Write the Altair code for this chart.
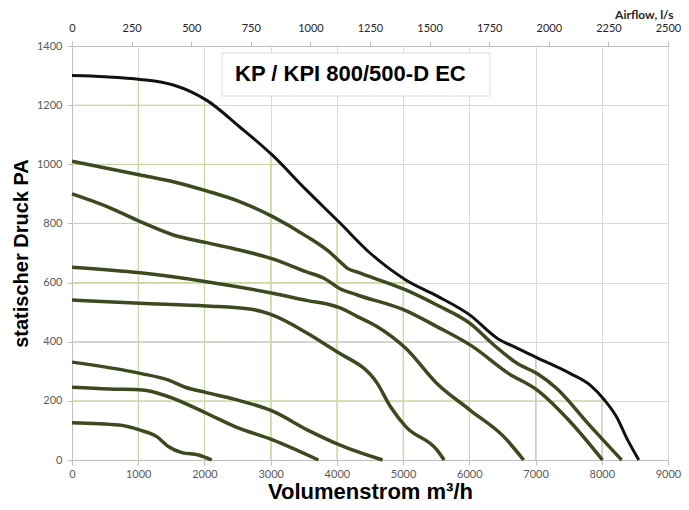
import altair as alt
import pandas as pd
import numpy as np

# ---- axis ticks ----
x_ticks = list(range(0, 9001, 1000))      # Volumenstrom m³/h
y_ticks = list(range(0, 1401, 200))       # statischer Druck PA
top_ticks = list(range(0, 2501, 250))     # Airflow l/s

# ---- curves ----
c1300_x = [0, 500, 1030, 1530, 1800, 2030, 2530, 3030, 3530, 4040, 4500, 5040, 5510, 6010, 6420, 6720, 7040, 7520, 7820, 8040, 8220, 8390, 8560]
c1300_y = [1300, 1296, 1287, 1268, 1245, 1217, 1127, 1030, 915, 803, 700, 609, 555, 490, 412, 378, 344, 293, 254, 203, 147, 68, 0]

c1010_x = [0, 1030, 1530, 2030, 2530, 3030, 3530, 3910, 4040, 4160, 4310, 5040, 5510, 6010, 6370, 6720, 7040, 7320, 7790, 8300]
c1010_y = [1010, 964, 941, 910, 874, 823, 758, 699, 672, 648, 635, 575, 524, 462, 389, 327, 290, 242, 124, 0]

c900_x = [0, 530, 1030, 1530, 2030, 2530, 3030, 3530, 3810, 4040, 4310, 5040, 5510, 6040, 6590, 7020, 7520, 8010]
c900_y = [900, 857, 806, 761, 735, 710, 680, 637, 614, 580, 558, 505, 451, 385, 293, 237, 130, 0]

c650_x = [0, 1030, 2030, 3030, 3560, 3910, 4040, 4310, 4610, 5040, 5510, 6010, 6520, 6820]
c650_y = [652, 633, 603, 564, 539, 524, 515, 485, 451, 378, 259, 169, 79, 0]

c540_x = [0, 1030, 2030, 2710, 3030, 3560, 3960, 4040, 4610, 4810, 5040, 5510, 5620]
c540_y = [541, 530, 521, 510, 490, 428, 372, 361, 259, 180, 113, 34, 0]

c330_x = [0, 1030, 1460, 1710, 2030, 2460, 3030, 3560, 4040, 4690]
c330_y = [331, 293, 270, 246, 228, 205, 165, 101, 51, 0]

c245_x = [0, 560, 1060, 1460, 2030, 2460, 3030, 3720]
c245_y = [246, 240, 237, 214, 158, 113, 68, 0]

c120_x = [0, 710, 1030, 1280, 1460, 1660, 1910, 2110]
c120_y = [126, 118, 101, 79, 45, 25, 17, 0]

title_text = "KP / KPI 800/500-D EC"

# ---- build tables ----
green_curves = {
    "c1010": (c1010_x, c1010_y),
    "c900": (c900_x, c900_y),
    "c650": (c650_x, c650_y),
    "c540": (c540_x, c540_y),
    "c330": (c330_x, c330_y),
    "c245": (c245_x, c245_y),
    "c120": (c120_x, c120_y),
}
rows = []
for name, (xs_, ys_) in green_curves.items():
    for a, b in zip(xs_, ys_):
        rows.append({"x": a, "y": b, "curve": name})
df_green = pd.DataFrame(rows)
df_black = pd.DataFrame({"x": c1300_x, "y": c1300_y, "curve": "c1300"})

# green grid under the envelope (top curve)
env_x = np.array(c1300_x, dtype=float)
env_y = np.array(c1300_y, dtype=float)
df_gv = pd.DataFrame({
    "x": x_ticks[1:-1],
    "y": [0] * len(x_ticks[1:-1]),
    "y2": [float(np.interp(g, env_x, env_y)) for g in x_ticks[1:-1]],
})
df_gh = pd.DataFrame({
    "x": [0] * len(y_ticks[1:-1]),
    "x2": [float(np.interp(g, env_y[::-1], env_x[::-1])) for g in y_ticks[1:-1]],
    "y": y_ticks[1:-1],
})
df_top = pd.DataFrame({"ls": top_ticks})

# ---- styling ----
LABEL_FONT = "Lato"
TITLE_FONT = "Liberation Sans"
GRAY_GRID = "#d9d9d9"
GREEN_GRID = "#c4d79b"
LINE_GREEN = "#3b4a1f"
PLOT_W = 596
PLOT_H = 414

xs = alt.Scale(domain=[0, 9000], nice=False, zero=True)
ys = alt.Scale(domain=[0, 1400], nice=False, zero=True)

xaxis = alt.Axis(
    values=x_ticks, format="d", grid=True, gridColor=GRAY_GRID, gridWidth=1,
    domainColor="#bfbfbf", tickColor="#bfbfbf", tickSize=5,
    labelFont=LABEL_FONT, labelFontSize=11, labelColor="#595959", labelPadding=3,
    title="Volumenstrom m³/h", titleFont=TITLE_FONT, titleFontSize=22,
    titleFontWeight="bold", titleColor="#000000",
    titleX=PLOT_W / 2, titleY=38, titleAlign="center", titleBaseline="alphabetic",
    labelFlush=False,
)
yaxis = alt.Axis(
    values=y_ticks, format="d", grid=True, gridColor=GRAY_GRID, gridWidth=1,
    domainColor="#bfbfbf", tickColor="#bfbfbf", tickSize=5,
    labelFont=LABEL_FONT, labelFontSize=11, labelColor="#595959", labelPadding=5,
    title="statischer Druck PA", titleFont=TITLE_FONT, titleFontSize=20,
    titleFontWeight="bold", titleColor="#000000", titlePadding=5,
    labelFlush=False,
)

X = alt.X("x:Q", scale=xs, axis=xaxis)
Y = alt.Y("y:Q", scale=ys, axis=yaxis)

grid_v = alt.Chart(df_gv).mark_rule(color=GREEN_GRID, strokeWidth=1).encode(
    x=X, y=Y, y2="y2:Q")
grid_h = alt.Chart(df_gh).mark_rule(color=GREEN_GRID, strokeWidth=1).encode(
    x=X, x2="x2:Q", y=Y)

box = alt.Chart(df_top.head(1)).mark_rect(
    fill="white", stroke="#d9d9d9", strokeWidth=1
).encode(x=alt.value(150), x2=alt.value(418), y=alt.value(7), y2=alt.value(50))

box_text = alt.Chart(df_top.head(1)).mark_text(
    text=title_text, font=TITLE_FONT, fontSize=22, fontWeight="bold",
    color="#000000", align="left", baseline="middle"
).encode(x=alt.value(163), y=alt.value(28))

lines_green = alt.Chart(df_green).mark_line(
    interpolate="monotone", strokeWidth=3.5, color=LINE_GREEN
).encode(x=X, y=Y, detail="curve:N")

line_black = alt.Chart(df_black).mark_line(
    interpolate="monotone", strokeWidth=3, color="#111111"
).encode(x=X, y=Y)

inner = alt.layer(grid_v, grid_h, box, box_text, lines_green, line_black)

top_axis = alt.Axis(
    orient="top", values=top_ticks, format="d", grid=False,
    domainColor="#bfbfbf", tickColor="#bfbfbf", tickSize=5,
    labelFont=LABEL_FONT, labelFontSize=11, labelColor="#262626", labelPadding=8,
    labelFlush=False,
    title="Airflow, l/s", titleFont=LABEL_FONT, titleFontSize=12,
    titleFontWeight="bold", titleColor="#262626",
    titleX=PLOT_W + 5, titleY=-32, titleAlign="right", titleBaseline="middle", titleAngle=0,
)
top = alt.Chart(df_top).mark_point(opacity=0).encode(
    x=alt.X("ls:Q", scale=alt.Scale(domain=[0, 2500], nice=False), axis=top_axis)
)

chart = alt.layer(inner, top).resolve_scale(x="independent").properties(
    width=PLOT_W, height=PLOT_H,
    autosize=alt.AutoSizeParams(type="none"),
    padding={"left": 64, "top": 38, "right": 13, "bottom": 42},
).configure_view(stroke=None)

chart.save("out.html", embed_options={"renderer": "svg", "actions": False})
